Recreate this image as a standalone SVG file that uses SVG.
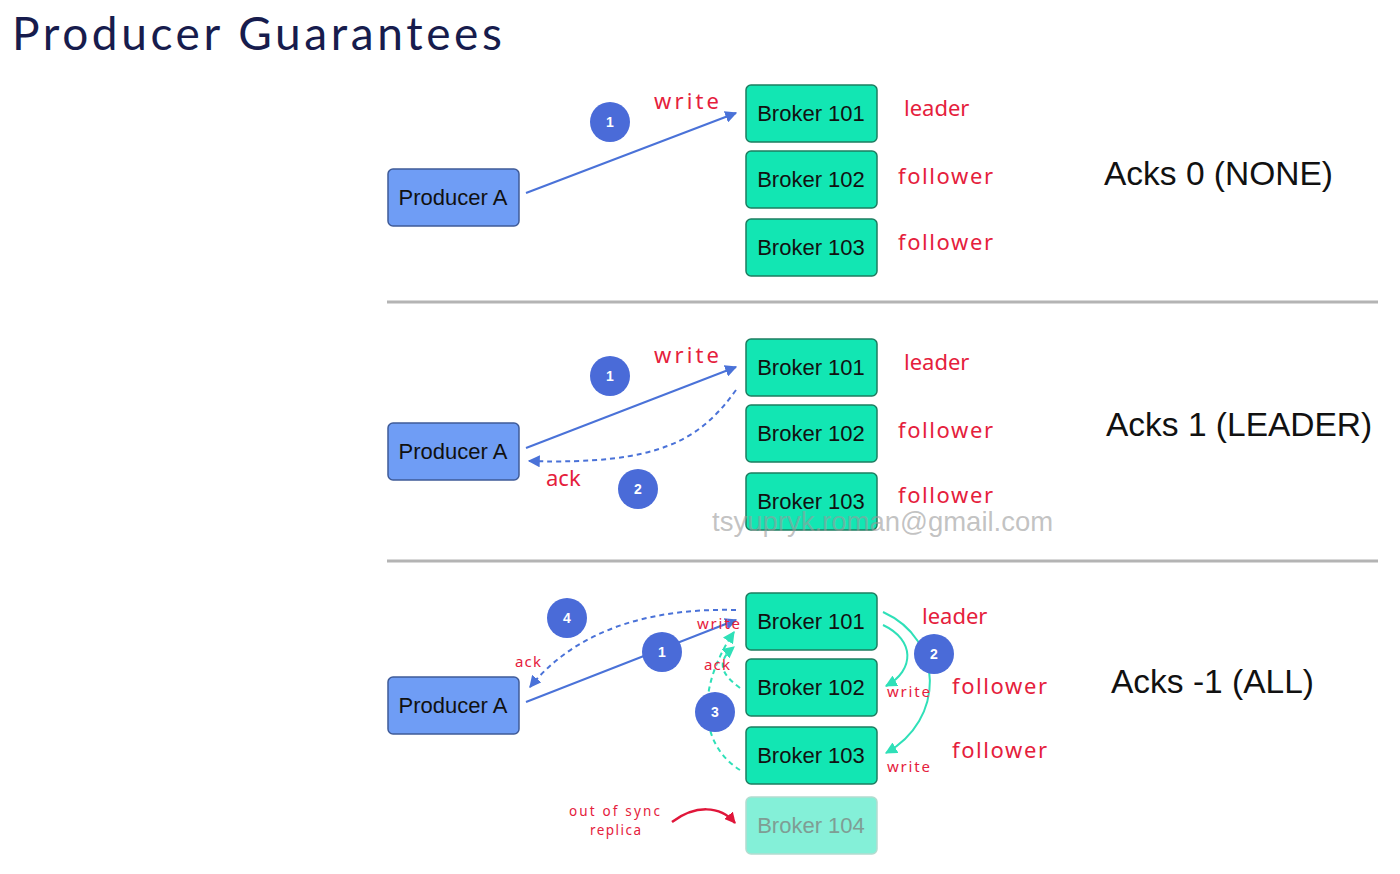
<svg xmlns="http://www.w3.org/2000/svg" width="1400" height="874" viewBox="0 0 1400 874">
  <defs>
    <style>
      .title { font-family: "Lato", "Noto Sans", sans-serif; font-size: 46px; letter-spacing: 3.6px; fill: #171c4d; }
      .node-text { font-family: "Liberation Sans", Arial, sans-serif; font-size: 22px; fill: #111; text-anchor: middle; dominant-baseline: central; }
      .producer rect { fill: #6f9df5; stroke: #3f5b98; stroke-width: 1.5; }
      .broker rect { fill: #12e6b3; stroke: #1d7d60; stroke-width: 1.5; }
      .broker.faded rect { fill: #84f0d8; stroke: #b3dccf; }
      .broker.faded text { fill: #7f9d94; }
      .step circle { fill: #4a6bd8; }
      .step text { font-family: "Liberation Sans", Arial, sans-serif; font-size: 14px; font-weight: bold; fill: #fff; text-anchor: middle; dominant-baseline: central; }
      .role { font-family: "Noto Sans", "DejaVu Sans", sans-serif; font-size: 22px; fill: #e5203c; }
      .note { font-family: "Noto Sans", "DejaVu Sans", sans-serif; font-size: 15px; fill: #e5203c; }
      .note.small { font-size: 13.5px; }
      .mode { font-family: "Liberation Sans", Arial, sans-serif; font-size: 33.5px; fill: #111; }
      .sep { stroke: #b4b4b4; stroke-width: 3; }
      .req { fill: none; stroke: #4a72d8; stroke-width: 2; marker-end: url(#blueHead); }
      .ack { fill: none; stroke: #4a72d8; stroke-width: 2; stroke-dasharray: 5 4; marker-end: url(#blueHead); }
      .rep { fill: none; stroke: #2fe0b8; stroke-width: 2; marker-end: url(#tealHead); }
      .repack { fill: none; stroke: #2fe0b8; stroke-width: 2; stroke-dasharray: 5 4; marker-end: url(#tealHead); }
      .hint { fill: none; stroke: #e0163a; stroke-width: 2.5; marker-end: url(#redHead); }
      .watermark { font-family: "Liberation Sans", Arial, sans-serif; font-size: 27.5px; fill: #9a9a9a; fill-opacity: 0.6; }
    </style>
    <marker id="blueHead" viewBox="0 0 10 10" refX="9" refY="5" markerWidth="6" markerHeight="6" markerUnits="strokeWidth" orient="auto">
      <path d="M0,0 L10,5 L0,10 z" fill="#4a72d8"/>
    </marker>
    <marker id="tealHead" viewBox="0 0 10 10" refX="9" refY="5" markerWidth="6" markerHeight="6" markerUnits="strokeWidth" orient="auto">
      <path d="M0,0 L10,5 L0,10 z" fill="#2fe0b8"/>
    </marker>
    <marker id="redHead" viewBox="0 0 10 10" refX="9" refY="5" markerWidth="4.5" markerHeight="4.5" markerUnits="strokeWidth" orient="auto">
      <path d="M0,0 L10,5 L0,10 z" fill="#e0163a"/>
    </marker>
  </defs>

  <rect width="1400" height="874" fill="#ffffff"/>

  <text class="title" x="12" y="50">Producer Guarantees</text>

  <!-- section dividers -->
  <line class="sep" x1="387" y1="302" x2="1378" y2="302"/>
  <line class="sep" x1="387" y1="561" x2="1378" y2="561"/>

  <!-- connectors -->
  <g id="connectors">
    <!-- acks=0 -->
    <path class="req" d="M526,193 L736,113"/>
    <!-- acks=1 -->
    <path class="req" d="M526,448 L736,367"/>
    <path class="ack" d="M736,390 C700,440 660,465 529,461"/>
    <!-- acks=all -->
    <path class="req" d="M526,702 L736,620"/>
    <path class="ack" d="M736,610 C660,608 580,625 530,687"/>
    <path class="rep" d="M883,612 C945,640 945,720 886,753"/>
    <path class="rep" d="M883,625 C915,640 915,670 886,686"/>
    <path class="repack" d="M740,688 C718,672 718,660 734,647"/>
    <path class="repack" d="M740,770 C700,745 695,690 734,632"/>
    <path class="hint" d="M672,822 C695,805 720,805 735,823"/>
  </g>

  <!-- acks=0 -->
  <g id="producer-0" class="producer"><rect x="388" y="169" width="131" height="57" rx="5"/><text class="node-text" x="453" y="197">Producer A</text></g>
  <g id="broker-101-0" class="broker"><rect x="746" y="85" width="131" height="57" rx="5"/><text class="node-text" x="811" y="113">Broker 101</text></g>
  <g id="broker-102-0" class="broker"><rect x="746" y="151" width="131" height="57" rx="5"/><text class="node-text" x="811" y="179">Broker 102</text></g>
  <g id="broker-103-0" class="broker"><rect x="746" y="219" width="131" height="57" rx="5"/><text class="node-text" x="811" y="247">Broker 103</text></g>
  <g id="step-1-0" class="step"><circle cx="610" cy="122" r="20"/><text x="610" y="122">1</text></g>
  <text class="role" x="654" y="109" textLength="65">write</text>
  <text class="role" x="904" y="116">leader</text>
  <text class="role" x="898" y="184" textLength="95">follower</text>
  <text class="role" x="898" y="250" textLength="95">follower</text>
  <text class="mode" x="1104" y="185">Acks 0 (NONE)</text>

  <!-- acks=1 -->
  <g id="producer-1" class="producer"><rect x="388" y="423" width="131" height="57" rx="5"/><text class="node-text" x="453" y="451">Producer A</text></g>
  <g id="broker-101-1" class="broker"><rect x="746" y="339" width="131" height="57" rx="5"/><text class="node-text" x="811" y="367">Broker 101</text></g>
  <g id="broker-102-1" class="broker"><rect x="746" y="405" width="131" height="57" rx="5"/><text class="node-text" x="811" y="433">Broker 102</text></g>
  <g id="broker-103-1" class="broker"><rect x="746" y="473" width="131" height="57" rx="5"/><text class="node-text" x="811" y="501">Broker 103</text></g>
  <g id="step-1-1" class="step"><circle cx="610" cy="376" r="20"/><text x="610" y="376">1</text></g>
  <g id="step-2-1" class="step"><circle cx="638" cy="489" r="20"/><text x="638" y="489">2</text></g>
  <text class="role" x="654" y="363" textLength="65">write</text>
  <text class="role" x="546" y="486">ack</text>
  <text class="role" x="904" y="370">leader</text>
  <text class="role" x="898" y="438" textLength="95">follower</text>
  <text class="role" x="898" y="503" textLength="95">follower</text>
  <text class="mode" x="1106" y="436">Acks 1 (LEADER)</text>

  <text class="watermark" x="712" y="531">tsyupryk.roman@gmail.com</text>

  <!-- acks=all -->
  <g id="producer-2" class="producer"><rect x="388" y="677" width="131" height="57" rx="5"/><text class="node-text" x="453" y="705">Producer A</text></g>
  <g id="broker-101-2" class="broker"><rect x="746" y="593" width="131" height="57" rx="5"/><text class="node-text" x="811" y="621">Broker 101</text></g>
  <g id="broker-102-2" class="broker"><rect x="746" y="659" width="131" height="57" rx="5"/><text class="node-text" x="811" y="687">Broker 102</text></g>
  <g id="broker-103-2" class="broker"><rect x="746" y="727" width="131" height="57" rx="5"/><text class="node-text" x="811" y="755">Broker 103</text></g>
  <g id="broker-104-2" class="broker faded"><rect x="746" y="797" width="131" height="57" rx="5"/><text class="node-text" x="811" y="825">Broker 104</text></g>
  <g id="step-1-2" class="step"><circle cx="662" cy="652" r="20"/><text x="662" y="652">1</text></g>
  <g id="step-2-2" class="step"><circle cx="934" cy="654" r="20"/><text x="934" y="654">2</text></g>
  <g id="step-3-2" class="step"><circle cx="715" cy="712" r="20"/><text x="715" y="712">3</text></g>
  <g id="step-4-2" class="step"><circle cx="567" cy="618" r="20"/><text x="567" y="618">4</text></g>
  <text class="note" x="697" y="629" textLength="43">write</text>
  <text class="note" x="515" y="667" textLength="26">ack</text>
  <text class="note" x="704" y="670" textLength="26">ack</text>
  <text class="note" x="887" y="697" textLength="43">write</text>
  <text class="note" x="887" y="772" textLength="43">write</text>
  <text class="note small" x="569" y="816" textLength="91">out of sync</text>
  <text class="note small" x="590" y="835" textLength="51">replica</text>
  <text class="role" x="922" y="624">leader</text>
  <text class="role" x="952" y="694" textLength="95">follower</text>
  <text class="role" x="952" y="758" textLength="95">follower</text>
  <text class="mode" x="1111" y="693">Acks -1 (ALL)</text>
</svg>
